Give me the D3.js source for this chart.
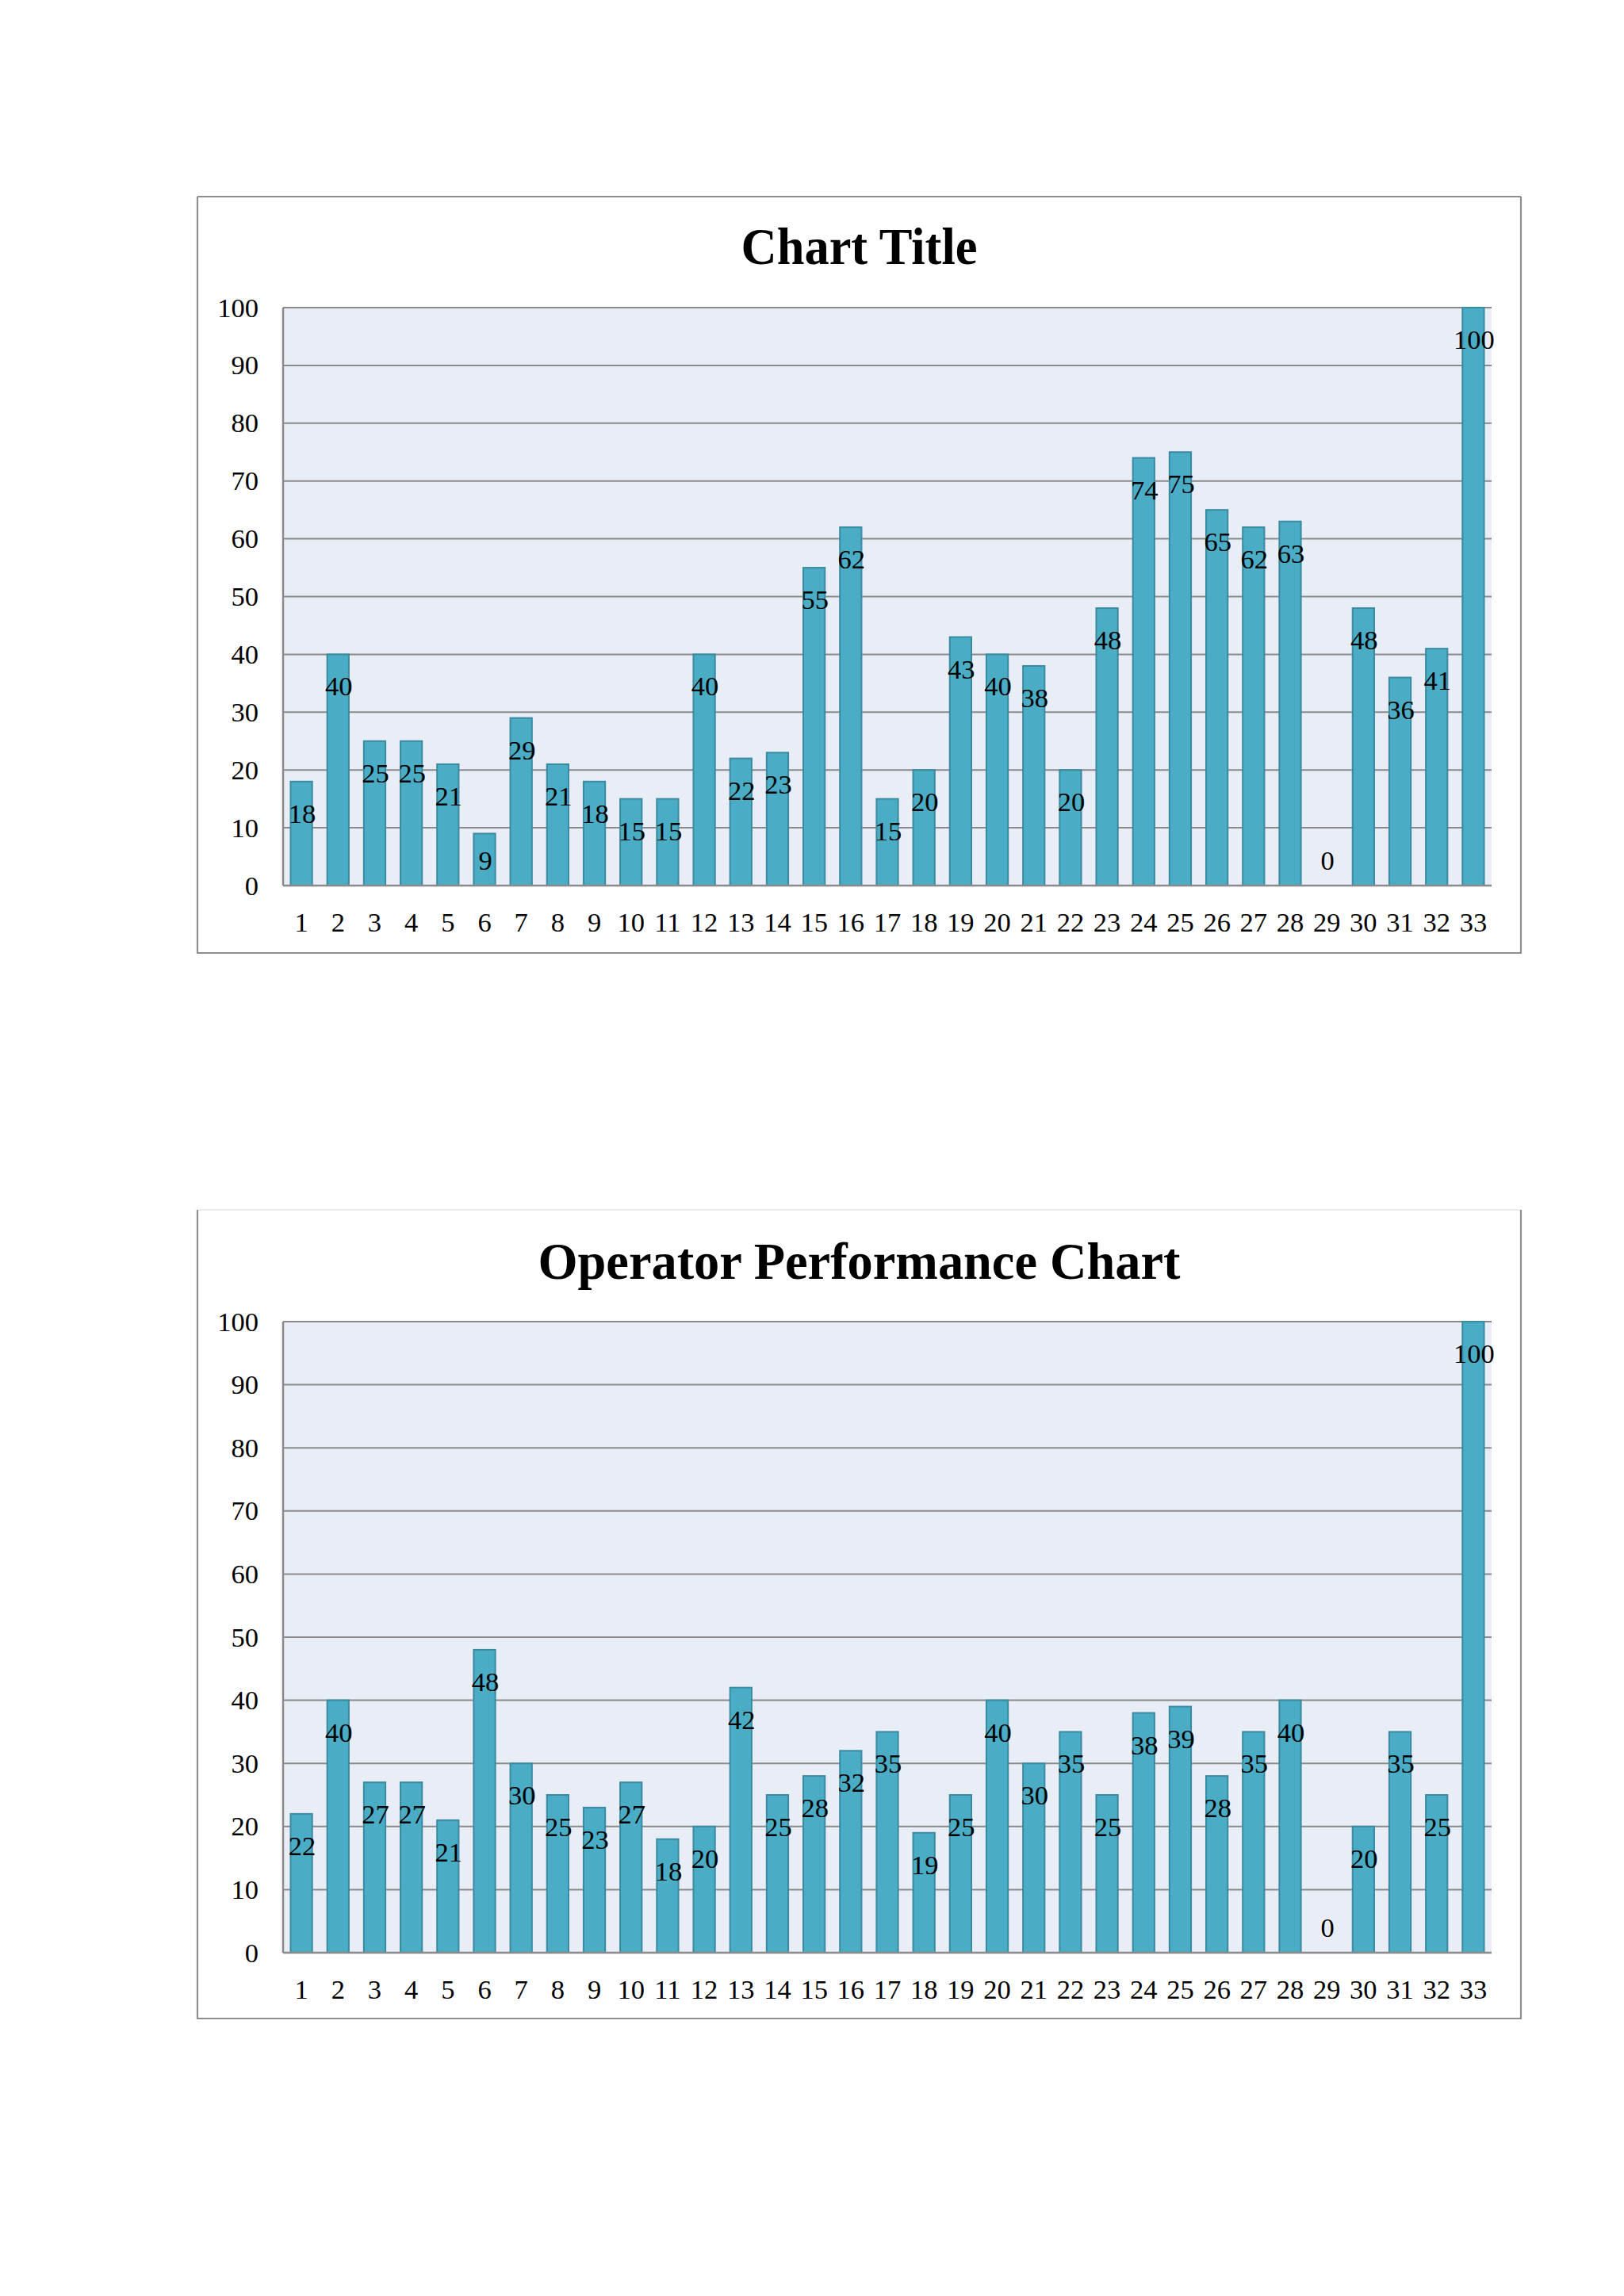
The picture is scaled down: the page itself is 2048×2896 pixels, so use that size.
<!DOCTYPE html>
<html>
<head>
<meta charset="utf-8">
<script src="https://cdn.jsdelivr.net/npm/d3@7"></script>
<style>
  html, body { margin: 0; padding: 0; background: #ffffff; }
  svg { display: block; }
</style>
</head>
<body>
<script>
// ---- data ----
const categories = ["1","2","3","4","5","6","7","8","9","10","11","12","13","14","15","16","17","18","19","20","21","22","23","24","25","26","27","28","29","30","31","32","33"];
const chart1Title = "Chart Title";
const chart1Values = [18,40,25,25,21,9,29,21,18,15,15,40,22,23,55,62,15,20,43,40,38,20,48,74,75,65,62,63,0,48,36,41,100];
const chart2Title = "Operator Performance Chart";
const chart2Values = [22,40,27,27,21,48,30,25,23,27,18,20,42,25,28,32,35,19,25,40,30,35,25,38,39,28,35,40,0,20,35,25,100];
const yTicks = [0,10,20,30,40,50,60,70,80,90,100];

// ---- layout ----
const W = 2048, H = 2896;
const svg = d3.select("body").append("svg").attr("width", W).attr("height", H);
svg.append("rect").attr("width", W).attr("height", H).attr("fill", "#ffffff");

const FONT = "'Liberation Serif', 'DejaVu Serif', serif";
const GRID = "#8a8a8a";
const FRAME = "#8e8e8e";
const FS = 34.5;

function drawChart(cfg) {
  const g = svg.append("g");
  g.append("rect")
    .attr("x", cfg.frame.x).attr("y", cfg.frame.y)
    .attr("width", cfg.frame.w).attr("height", cfg.frame.h)
    .attr("fill", "#ffffff").attr("stroke", "none");
  const fx0 = cfg.frame.x, fy0 = cfg.frame.y, fx1 = cfg.frame.x + cfg.frame.w, fy1 = cfg.frame.y + cfg.frame.h;
  g.append("line").attr("x1", fx0).attr("y1", fy0).attr("x2", fx1).attr("y2", fy0)
    .attr("stroke", cfg.topBorder).attr("stroke-width", 2);
  g.append("path").attr("d", `M${fx0},${fy0}V${fy1}H${fx1}V${fy0}`)
    .attr("fill", "none").attr("stroke", FRAME).attr("stroke-width", 2.2);

  // title
  g.append("text")
    .attr("x", (fx0 + fx1) / 2).attr("y", cfg.titleY)
    .attr("text-anchor", "middle")
    .attr("font-family", FONT).attr("font-weight", "bold")
    .attr("font-size", 65)
    .attr("textLength", cfg.titleLen).attr("lengthAdjust", "spacingAndGlyphs")
    .attr("fill", "#000")
    .text(cfg.title);

  const p = cfg.plot;
  const x = d3.scaleBand().domain(categories).range([p.x0, p.x1])
    .paddingInner(0.41).paddingOuter(0.205);
  const y = d3.scaleLinear().domain([0, 100]).range([p.y1, p.y0]);

  g.append("rect").attr("x", p.x0).attr("y", p.y0)
    .attr("width", p.x1 - p.x0).attr("height", p.y1 - p.y0)
    .attr("fill", "#e9eef6");

  g.append("g").selectAll("line").data(yTicks).join("line")
    .attr("x1", p.x0).attr("x2", p.x1)
    .attr("y1", d => y(d)).attr("y2", d => y(d))
    .attr("stroke", GRID).attr("stroke-width", 2);

  g.append("g").selectAll("rect").data(cfg.values).join("rect")
    .attr("x", (d, i) => x(categories[i]))
    .attr("y", d => y(d))
    .attr("width", x.bandwidth())
    .attr("height", d => y(0) - y(d))
    .attr("fill", "#4bacc6")
    .attr("stroke", "#3a8aa2").attr("stroke-width", d => d > 0 ? 2 : 0);

  g.append("line").attr("x1", p.x0).attr("x2", p.x0).attr("y1", p.y0).attr("y2", p.y1)
    .attr("stroke", GRID).attr("stroke-width", 2.5);
  g.append("line").attr("x1", p.x0).attr("x2", p.x1).attr("y1", p.y1).attr("y2", p.y1)
    .attr("stroke", GRID).attr("stroke-width", 2.5);

  const yAxis = d3.axisLeft(y).tickValues(yTicks).tickSize(0).tickPadding(31);
  const ya = g.append("g").attr("transform", `translate(${p.x0},0)`).call(yAxis);
  ya.select(".domain").remove();
  ya.selectAll("text").attr("font-family", FONT).attr("font-size", FS).attr("fill", "#000");

  const xAxis = d3.axisBottom(x).tickSize(0).tickPadding(0);
  const xa = g.append("g").attr("transform", `translate(0,${p.y1})`).call(xAxis);
  xa.select(".domain").remove();
  xa.selectAll("text").attr("font-family", FONT).attr("font-size", FS).attr("fill", "#000")
    .attr("dy", null).attr("y", 46).attr("dominant-baseline", "central");

  g.append("g").selectAll("text").data(cfg.values).join("text")
    .attr("x", (d, i) => x(categories[i]) + x.bandwidth() / 2 + 1)
    .attr("y", d => Math.min(y(d) + 40, y(0) - 32))
    .attr("dominant-baseline", "central")
    .attr("text-anchor", "middle")
    .attr("font-family", FONT).attr("font-size", FS).attr("fill", "#000")
    .text(d => d);
}

drawChart({
  title: chart1Title, titleLen: 298, titleY: 333,
  values: chart1Values,
  frame: { x: 249, y: 248, w: 1669, h: 954 },
  topBorder: FRAME,
  plot: { x0: 357, x1: 1881, y0: 388, y1: 1117 }
});

drawChart({
  title: chart2Title, titleLen: 810, titleY: 1613,
  values: chart2Values,
  frame: { x: 249, y: 1526, w: 1669, h: 1020 },
  topBorder: "#ececec",
  plot: { x0: 357, x1: 1881, y0: 1667, y1: 2463 }
});
</script>
</body>
</html>
